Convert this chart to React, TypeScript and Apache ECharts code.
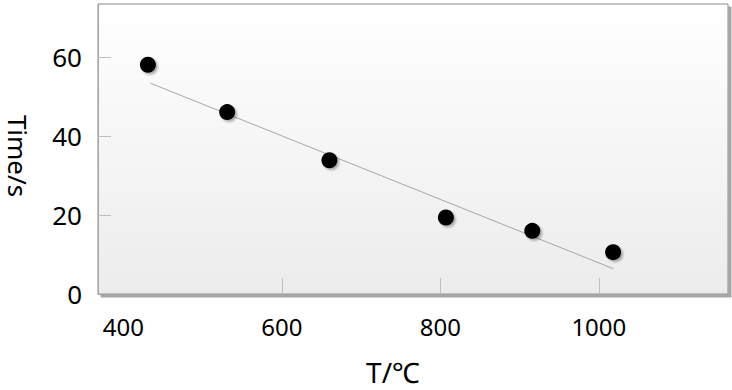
import React, { useEffect, useRef } from "react";
import * as echarts from "echarts";

const tempValues = [431, 531, 660, 807, 916, 1018];
const timeValues = [58.1, 46.1, 33.9, 19.4, 16.0, 10.6];
const trendX = [434.5, 1018.4];
const trendY = [53.4, 6.4];
const xLabelValues = [400, 600, 800, 1000];
const xTickValues = [600, 800, 1000];
const yLabelValues = [0, 20, 40, 60];
const yTickValues = [20, 40, 60];

export default function App() {
  const ref = useRef<HTMLDivElement>(null);
  useEffect(() => {
    if (!ref.current) return;
    const chart = echarts.init(ref.current, undefined, { renderer: "svg" });
    const font = "Noto Sans";
    chart.setOption({
      animation: false,
      backgroundColor: "#ffffff",
      grid: {
        left: 98,
        top: 4,
        right: 4,
        bottom: 96,
        show: true,
        borderColor: "#8c8c8c",
        borderWidth: 1,
        backgroundColor: new echarts.graphic.LinearGradient(0, 0, 0, 1, [
          { offset: 0, color: "#ffffff" },
          { offset: 1, color: "#ececec" },
        ]),
        shadowColor: "rgba(0,0,0,0.35)",
        shadowBlur: 1,
        shadowOffsetX: 3,
        shadowOffsetY: 3,
      },
      xAxis: {
        type: "value",
        min: 368,
        max: 1163,
        axisLine: { show: true, lineStyle: { color: "#a6a6a6", width: 1 } },
        axisTick: {
          show: true,
          inside: true,
          length: 16,
          customValues: xTickValues,
          lineStyle: { color: "#bfbfbf" },
        },
        axisLabel: {
          customValues: xLabelValues,
          formatter: (v: number) => String(v),
          color: "#000",
          fontFamily: font,
          fontSize: 24,
          margin: 20,
        },
        splitLine: { show: false },
      },
      yAxis: {
        type: "value",
        min: 0,
        max: 73.5,
        axisLine: { show: true, lineStyle: { color: "#a6a6a6", width: 1 } },
        axisTick: {
          show: true,
          inside: true,
          length: 13,
          customValues: yTickValues,
          lineStyle: { color: "#bfbfbf" },
        },
        axisLabel: {
          customValues: yLabelValues,
          formatter: (v: number) => String(v),
          color: "#000",
          fontFamily: font,
          fontSize: 26,
          margin: 16,
        },
        splitLine: { show: false },
      },
      series: [
        {
          type: "line",
          data: trendX.map((x, i) => [x, trendY[i]]),
          symbol: "none",
          lineStyle: { color: "#a6a6a6", width: 1 },
          z: 2,
        },
        {
          type: "scatter",
          data: tempValues.map((x, i) => [x, timeValues[i]]),
          symbol: "circle",
          symbolSize: 16,
          itemStyle: {
            color: "#000000",
            opacity: 1,
            shadowColor: "rgba(0,0,0,0.3)",
            shadowBlur: 2,
            shadowOffsetX: 2,
            shadowOffsetY: 2,
          },
          z: 3,
        },
      ],
      graphic: [
        {
          type: "text",
          x: 18,
          y: 156,
          rotation: -Math.PI / 2,
          style: {
            text: "Time/s",
            fontFamily: font,
            fontSize: 26,
            fill: "#000",
            textAlign: "center",
            textVerticalAlign: "middle",
          },
        },
        {
          type: "text",
          x: 393,
          y: 372,
          style: {
            text: "T/℃",
            fontFamily: font,
            fontSize: 28,
            fill: "#000",
            textAlign: "center",
            textVerticalAlign: "middle",
          },
        },
      ],
    });
    return () => chart.dispose();
  }, []);
  return (
    <div
      ref={ref}
      style={{ position: "fixed", left: 0, top: 0, width: 732, height: 390 }}
    />
  );
}
